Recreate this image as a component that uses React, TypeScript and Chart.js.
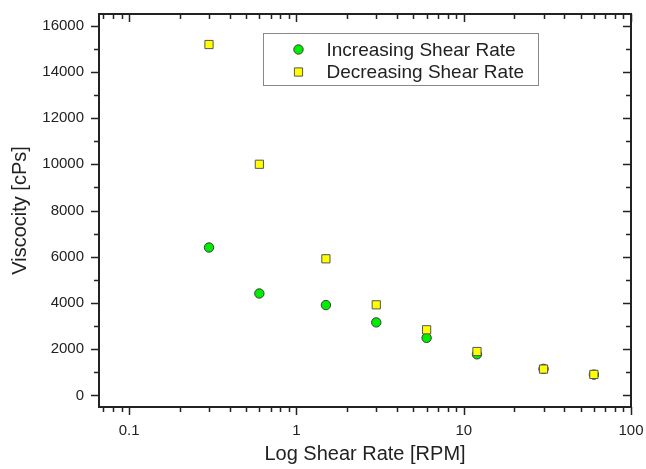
import React, { useEffect, useRef } from "react";
import { Chart, registerables } from "chart.js";

Chart.register(...registerables);

const SHEAR_RATES = [0.3, 0.6, 1.5, 3, 6, 12, 30, 60];
const INCREASING = [6400, 4410, 3910, 3160, 2490, 1780, 1150, 900];
const DECREASING = [15180, 10000, 5910, 3920, 2840, 1900, 1140, 910];
const X_MAJOR = [0.1, 1, 10, 100];
const X_MINOR = [0.07, 0.08, 0.09, 0.2, 0.3, 0.4, 0.5, 0.6, 0.7, 0.8, 0.9, 2, 3, 4, 5, 6, 7, 8, 9, 20, 30, 40, 50, 60, 70, 80, 90];
const Y_MAJOR = [0, 2000, 4000, 6000, 8000, 10000, 12000, 14000, 16000];
const Y_MINOR = [1000, 3000, 5000, 7000, 9000, 11000, 13000, 15000];
const SERIES_LABELS = ["Increasing Shear Rate", "Decreasing Shear Rate"];

const FONT = "'Liberation Sans', Arial, sans-serif";
const INK = "#222";

const frameTicksPlugin = {
  id: "frameTicks",
  afterDraw(chart: any) {
    const { ctx, chartArea } = chart;
    const { left, right, top, bottom } = chartArea;
    const xs = chart.scales.x;
    const ys = chart.scales.y;
    ctx.save();
    ctx.strokeStyle = INK;
    ctx.lineWidth = 1.5;
    const MAJ = 8;
    const MIN = 5;
    ctx.beginPath();
    const xTick = (v: number, len: number) => {
      const px = Math.round(xs.getPixelForValue(v)) + 0.5;
      ctx.moveTo(px, bottom);
      ctx.lineTo(px, bottom + len);
      ctx.moveTo(px, top);
      ctx.lineTo(px, top + len);
    };
    const yTick = (v: number, len: number) => {
      const py = Math.round(ys.getPixelForValue(v)) + 0.5;
      ctx.moveTo(left, py);
      ctx.lineTo(left - len, py);
      ctx.moveTo(right, py);
      ctx.lineTo(right - len, py);
    };
    X_MAJOR.forEach((v) => xTick(v, MAJ));
    X_MINOR.forEach((v) => xTick(v, MIN));
    Y_MAJOR.forEach((v) => yTick(v, MAJ));
    Y_MINOR.forEach((v) => yTick(v, MIN));
    ctx.stroke();
    ctx.lineWidth = 2;
    ctx.strokeRect(left, top, right - left, bottom - top);

    // legend
    const lx = 263.5, ly = 33.5, lw = 275, lh = 52;
    ctx.lineWidth = 1;
    ctx.strokeStyle = "#888";
    ctx.fillStyle = "#fff";
    ctx.fillRect(lx, ly, lw, lh);
    ctx.strokeRect(lx, ly, lw, lh);
    ctx.font = `19px ${FONT}`;
    ctx.textBaseline = "middle";
    ctx.textAlign = "left";
    SERIES_LABELS.forEach((label, i) => {
      const ds = chart.data.datasets.find((d: any) => d.label === label);
      const cy = ly + 16 + i * 22.5;
      const cx = lx + 35;
      ctx.fillStyle = ds.backgroundColor;
      ctx.strokeStyle = ds.borderColor;
      ctx.lineWidth = 1;
      ctx.beginPath();
      if (ds.pointStyle === "rect") {
        const s = Math.SQRT1_2 * ds.pointRadius;
        ctx.rect(cx - s, cy - s, 2 * s, 2 * s);
      } else {
        ctx.arc(cx, cy, ds.pointRadius, 0, Math.PI * 2);
      }
      ctx.fill();
      ctx.stroke();
      ctx.fillStyle = INK;
      ctx.fillText(label, lx + 63, cy + 1);
    });
    ctx.restore();
  },
};

export default function App() {
  const ref = useRef<HTMLCanvasElement | null>(null);
  useEffect(() => {
    if (!ref.current) return;
    const chart = new Chart(ref.current, {
      type: "scatter",
      data: {
        datasets: [
          {
            label: SERIES_LABELS[0],
            data: SHEAR_RATES.map((x, i) => ({ x, y: INCREASING[i] })),
            pointStyle: "circle",
            pointRadius: 4.7,
            backgroundColor: "#00ee00",
            borderColor: "#3a3a3a",
            borderWidth: 1,
            order: 1,
          },
          {
            label: SERIES_LABELS[1],
            data: SHEAR_RATES.map((x, i) => ({ x, y: DECREASING[i] })),
            pointStyle: "rect",
            pointRadius: 5.8,
            backgroundColor: "#ffff00",
            borderColor: "#555",
            borderWidth: 1,
            order: 0,
          },
        ] as any,
      },
      options: {
        animation: false,
        responsive: true,
        maintainAspectRatio: false,
        layout: { padding: { top: 14, right: 15, left: 0, bottom: 0 } },
        plugins: { legend: { display: false }, tooltip: { enabled: false } },
        scales: {
          x: {
            type: "logarithmic",
            min: 0.066,
            max: 100,
            grid: { display: false, drawTicks: false },
            border: { display: false },
            afterBuildTicks: (s: any) => {
              s.ticks = X_MAJOR.map((v) => ({ value: v }));
            },
            afterFit: (s: any) => {
              s.height = 62;
              s.paddingLeft = 0;
              s.paddingRight = 0;
            },
            ticks: {
              autoSkip: false,
              maxRotation: 0,
              padding: 15,
              color: INK,
              font: { family: FONT, size: 15 },
              callback: (v: any) => String(v),
            },
            title: {
              display: true,
              text: "Log Shear Rate [RPM]",
              color: INK,
              font: { family: FONT, size: 20 },
              padding: { top: 0, bottom: 3 },
            },
          },
          y: {
            type: "linear",
            min: -500,
            max: 16500,
            grid: { display: false, drawTicks: false },
            border: { display: false },
            afterBuildTicks: (s: any) => {
              s.ticks = Y_MAJOR.map((v) => ({ value: v }));
            },
            afterFit: (s: any) => {
              s.width = 99;
              s.paddingTop = 0;
              s.paddingBottom = 0;
            },
            ticks: {
              autoSkip: false,
              padding: 15,
              color: INK,
              font: { family: FONT, size: 15 },
              callback: (v: any) => String(v),
            },
            title: {
              display: true,
              text: "Viscocity [cPs]",
              color: INK,
              font: { family: FONT, size: 20 },
              padding: { top: 8, bottom: 0 },
            },
          },
        },
      },
      plugins: [frameTicksPlugin],
    });
    return () => chart.destroy();
  }, []);
  return (
    <div style={{ position: "fixed", left: 0, top: 0, width: 646, height: 469, background: "#fff" }}>
      <canvas ref={ref} />
    </div>
  );
}
